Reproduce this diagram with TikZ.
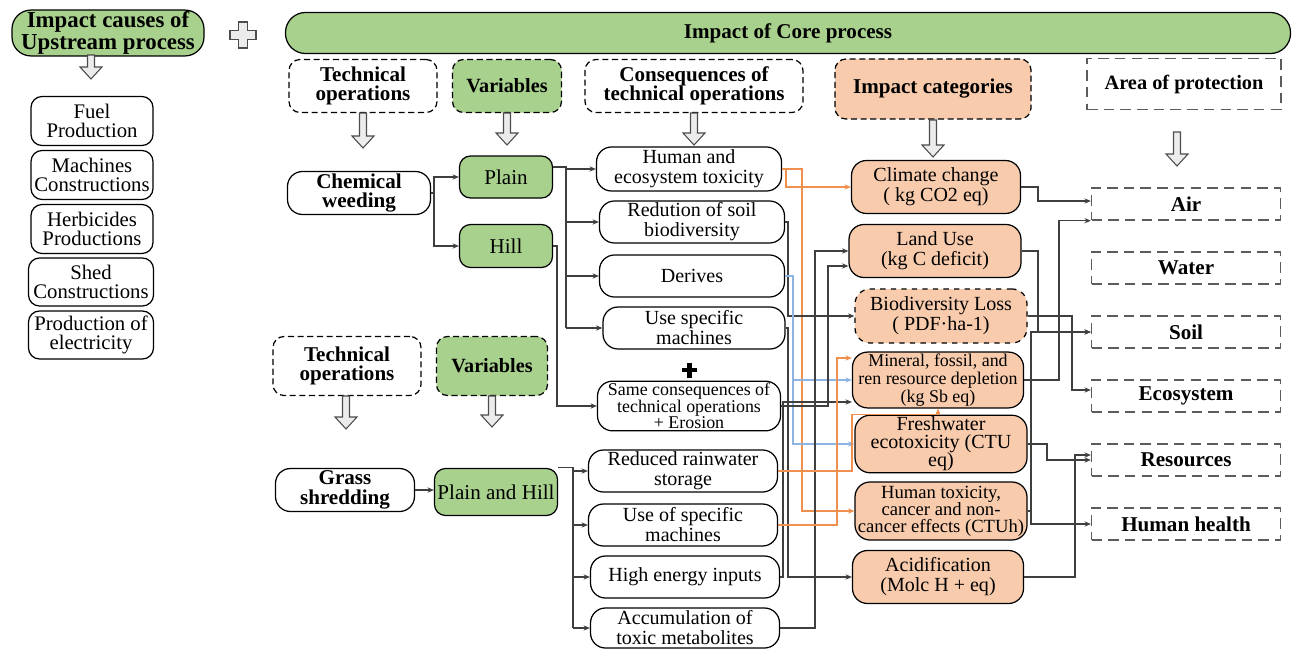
\documentclass[tikz,border=0pt]{standalone}
\usepackage{fontspec}
\setmainfont{Liberation Serif}
\usetikzlibrary{arrows.meta}
\definecolor{leaf}{HTML}{A9D18E}
\definecolor{peach}{HTML}{F8CBAD}
\definecolor{wire}{HTML}{3F3F3F}
\definecolor{amber}{HTML}{F0904F}
\definecolor{sky}{HTML}{8DB4E2}
\newcommand\fsz[2]{\fontsize{#1}{#2}\selectfont\lineskiplimit=-20pt\lineskip=0pt}
% hollow grey arrow pointing down: x, top y, length (all in px units)
\newcommand\hdown[3]{%
  \draw[hollow] (#1-3.5,#2) -- (#1+3.5,#2) -- (#1+3.5,#2+#3-12) -- (#1+11,#2+#3-12)
    -- (#1,#2+#3) -- (#1-11,#2+#3-12) -- (#1-3.5,#2+#3-12) -- cycle;}

\begin{document}
\begin{tikzpicture}[x=0.02cm, y=-0.02cm,
  box/.style={draw=black, line width=0.7pt, rounded corners=0.26cm, align=center,
              inner sep=1pt, fill=white, font=\fsz{11.4}{11.4}},
  sz/.style 2 args={minimum width=#1*0.02cm, minimum height=#2*0.02cm},
  src/.style={box, rounded corners=0.22cm, font=\fsz{11.8}{10.8}},
  hdr/.style={box, dash pattern=on 3.5pt off 2pt, rounded corners=0.22cm,
              font=\bfseries\fsz{12}{11}},
  op/.style={box, rounded corners=0.3cm, font=\bfseries\fsz{12}{11}},
  var/.style={box, fill=leaf, rounded corners=0.22cm, font=\fsz{12}{12}},
  cq/.style={box, rounded corners=0.3cm},
  cat/.style={box, fill=peach, rounded corners=0.3cm},
  aop/.style={draw=wire!85, line width=0.8pt, dash pattern=on 6pt off 3.5pt,
              fill=white, font=\bfseries\fsz{12}{12}, sz={189}{32}},
  ln/.style={draw=wire, line width=0.6pt},
  arr/.style={ln, -{Stealth[length=3.6pt,width=3pt]}},
  hollow/.style={draw=gray!60!black, fill=gray!15, line width=0.6pt}
]
\useasboundingbox (0,0) rectangle (1300,649);

% ---------- upstream side ----------
\node[box, fill=leaf, rounded corners=0.38cm, sz={192}{38},
      font=\bfseries\fsz{13}{12.2}] (up) at (108,33) {Impact causes of\\Upstream process};
\hdown{91}{55}{24}
\node[src, sz={122}{49}] (fuel) at (92,121) {Fuel\\Production};
\node[src, sz={122}{49}] (mach) at (92,175) {Machines\\Constructions};
\node[src, sz={122}{49}] (herb) at (92,229) {Herbicides\\Productions};
\node[src, sz={125}{48}] (shed) at (91,282) {Shed\\Constructions};
\node[src, sz={125}{48}] (elec) at (91,335) {Production of\\electricity};

% grey hollow plus between the two processes
\draw[hollow] (238.5,22) -- (247.5,22) -- (247.5,30.5) -- (256,30.5) -- (256,39.5)
  -- (247.5,39.5) -- (247.5,48) -- (238.5,48) -- (238.5,39.5) -- (230,39.5)
  -- (230,30.5) -- (238.5,30.5) -- cycle;

% ---------- core process headers ----------
\node[box, fill=leaf, rounded corners=0.4cm, sz={1005}{41},
      font=\bfseries\fsz{12}{12}] (core) at (788,33) {Impact of Core process};
\node[hdr, sz={148}{53}] (to1) at (363,86) {Technical\\operations};
\node[hdr, fill=leaf, sz={109}{53}, font=\bfseries\fsz{11.5}{11}] (var1) at (507,86) {Variables};
\node[hdr, sz={218}{53}] (cons) at (694,86) {Consequences of\\technical operations};
\node[hdr, fill=peach, sz={196}{60}] (icat) at (933,89) {Impact categories};
\node[hdr, rounded corners=0pt, draw=wire!85, dash pattern=on 6pt off 3.5pt,
      sz={194}{51}, font=\bfseries\fsz{11.6}{11}] (aoph) at (1184,84) {Area of protection};
\node[hdr, sz={148}{59}] (to2) at (347,366) {Technical\\operations};
\node[hdr, fill=leaf, sz={111}{59}, font=\bfseries\fsz{11.5}{11}] (var2) at (492,366) {Variables};

\hdown{363}{113}{35}
\hdown{507}{113}{32}
\hdown{694}{113}{32}
\hdown{933}{120}{37}
\hdown{1177}{132}{34}
\hdown{346}{396}{33}
\hdown{492}{396}{31}

% ---------- chemical weeding branch ----------
\node[op, sz={143}{43}] (chem) at (359,193) {Chemical\\weeding};
\node[var, sz={93}{42}] (plain) at (506,177) {Plain};
\node[var, sz={93}{43}] (hill) at (506,246) {Hill};
\node[cq, sz={185}{44}] (he) at (689,169) {Human and\\ecosystem toxicity};
\node[cq, sz={185}{42}] (red) at (692,222) {Redution of soil\\biodiversity};
\node[cq, sz={185}{42}] (der) at (692,276) {Derives};
\node[cq, sz={182}{42}] (usm) at (694,328) {Use specific\\machines};
\draw[line width=2.6pt, line cap=butt] (682,370) -- (697,370) (689.5,362.5) -- (689.5,377.5);
\node[cq, sz={183}{48}, font=\fsz{10.2}{9.5}] (same) at (689,406)
  {Same consequences of\\technical operations\\+ Erosion};

% ---------- grass shredding branch ----------
\node[op, sz={139}{43}] (grass) at (345,490) {Grass\\shredding};
\node[var, sz={123}{47}] (ph) at (496,492) {Plain and Hill};
\node[cq, sz={189}{42}] (rr) at (683,471) {Reduced rainwater\\storage};
\node[cq, sz={189}{42}] (usg) at (683,525) {Use of specific\\machines};
\node[cq, sz={189}{42}] (hei) at (685,577) {High energy inputs};
\node[cq, sz={189}{40}] (acc) at (685,628) {Accumulation of\\toxic metabolites};

% ---------- impact categories ----------
\node[cat, sz={169}{53}] (cc) at (936,187) {Climate change\\( kg CO2 eq)};
\node[cat, sz={172}{53}] (lu) at (935,251) {Land Use\\(kg C deficit)};
\node[cat, dashed, sz={172}{54}] (bl) at (941,316) {Biodiversity Loss\\( PDF·ha-1)};
\node[cat, sz={171}{54}, font=\fsz{10.2}{10.2}] (mi) at (938,380)
  {Mineral, fossil, and\\ren resource depletion\\(kg Sb eq)};
\node[cat, sz={172}{54}, font=\fsz{11.4}{10.2}] (fw) at (941,444)
  {Freshwater\\ecotoxicity (CTU\\eq)};
\node[cat, sz={172}{58}, font=\fsz{10.6}{9.6}] (ht) at (941,511)
  {Human toxicity,\\cancer and non-\\cancer effects (CTUh)};
\node[cat, sz={171}{53}] (ac) at (938,577) {Acidification\\(Molc H + eq)};

% ---------- areas of protection ----------
\node[aop] (air) at (1186,204) {Air};
\node[aop] (water) at (1186,268) {Water};
\node[aop] (soil) at (1186,332) {Soil};
\node[aop] (eco) at (1186,396) {Ecosystem};
\node[aop] (res) at (1186,460) {Resources};
\node[aop] (hh) at (1186,524) {Human health};

% ---------- vertical runs of the connectors ----------
\coordinate (kC) at (434,0);
\coordinate (kP) at (566,0);
\coordinate (kH) at (557,0);
\coordinate (kG) at (573,0);
\coordinate (kE) at (783,0);
\coordinate (kO1) at (786,0);
\coordinate (kD) at (788,0);
\coordinate (kB) at (793,0);
\coordinate (kO2) at (802,0);
\coordinate (kA) at (815,0);
\coordinate (kS) at (828,0);
\coordinate (kO3) at (837,0);
\coordinate (kO4) at (852,0);
\coordinate (kR4) at (1031,0);
\coordinate (kR1) at (1038,0);
\coordinate (kR5) at (1047,0);
\coordinate (kR2) at (1059,0);
\coordinate (kR3) at (1072,0);
\coordinate (kR6) at (1075,0);

% entry points on the boxes
\coordinate (luB) at ([yshift=-0.3cm]lu.west);
\coordinate (miA) at ([yshift=0.44cm]mi.west);
\coordinate (miB) at ([yshift=-0.44cm]mi.west);
\coordinate (miD) at ([yshift=-0.12cm]mi.south);
\coordinate (airA) at ([yshift=0.06cm]air.west);
\coordinate (ecoA) at ([yshift=0.12cm]eco.west);
\coordinate (resA) at ([yshift=0.1cm]res.west);

% operations -> variables -> consequences
\draw[ln] (chem.east) -- (kC |- chem.east);
\draw[arr] (kC |- chem.east) |- (plain.west);
\draw[arr] (kC |- chem.east) |- (hill.west);
\draw[ln] ([yshift=0.2cm]plain.east) -| (kP |- usm.west);
\foreach \n in {he,red,der,usm} \draw[arr] (kP |- \n.west) -- (\n.west);
\draw[arr] (hill.east) -| (kH |- same.west) -- (same.west);
\draw[arr] (grass.east) -- (grass.east -| ph.west);
\draw[ln] (ph.north east) -- (kG |- ph.north east) -- (kG |- acc.west);
\foreach \n in {rr,usg,hei,acc} \draw[arr] (kG |- \n.west) -- (\n.west);

% consequences -> impact categories
\draw[arr, draw=amber] (he.east) -| (kO1 |- cc.west) -- (cc.west);
\draw[arr, draw=amber] (he.east) -| (kO2 |- ht.west) -- (ht.west);
\draw[arr] (red.east) -| (kD |- bl.west) -- (bl.west);
\draw[arr, draw=sky] (der.east) -| (kB |- mi.west) -- (mi.west);
\draw[arr, draw=sky] (kB |- mi.west) |- (fw.west);
\draw[arr] (usm.east) -| (kD |- ac.west) -- (ac.west);
\draw[arr] (same.east) -| (kS |- luB) -- (luB);
\draw[arr] (hei.east) -| (kE |- miB) -- (miB);
\draw[arr] (acc.east) -| (kA |- lu.west) -- (lu.west);
\draw[arr, draw=amber] (rr.east) -| (kO4 |- miD) -- (miD) -- (mi.south);
\draw[arr, draw=amber] (usg.east) -| (kO3 |- miA) -- (miA);

% impact categories -> areas of protection
\draw[arr] (cc.east) -| (kR1 |- airA) -- (airA);
\draw[arr] (mi.east) -| (kR2 |- air.south west) -- (air.south west);
\draw[arr] (lu.east) -| (kR1 |- soil.west) -- (soil.west);
\draw[arr] (bl.east) -| (kR3 |- ecoA) -- (ecoA);
\draw[arr] (ht.east) -| (kR4 |- soil.west) -- (soil.west);
\draw[arr] (ht.east) -| (kR4 |- hh.west) -- (hh.west);
\draw[arr] (fw.east) -| (kR5 |- res.west) -- (res.west);
\draw[arr] (ac.east) -| (kR6 |- resA) -- (resA);
\end{tikzpicture}
\end{document}
